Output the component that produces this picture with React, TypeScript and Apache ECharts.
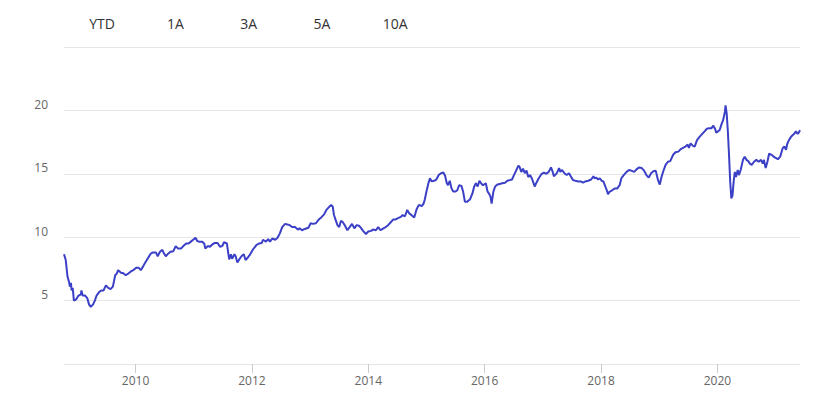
import React, { useEffect, useRef } from "react";
import * as echarts from "echarts";

const years: number[] = [
  2008.77, 2008.8, 2008.83, 2008.86, 2008.87, 2008.89, 2008.9, 2008.92, 2008.94, 2008.98,
  2009.02, 2009.06, 2009.07, 2009.09, 2009.13, 2009.17, 2009.2, 2009.23, 2009.27, 2009.3,
  2009.33, 2009.38, 2009.42, 2009.45, 2009.49, 2009.53, 2009.57, 2009.61, 2009.65, 2009.68,
  2009.7, 2009.75, 2009.79, 2009.83, 2009.88, 2009.92, 2009.96, 2010.01, 2010.05, 2010.09,
  2010.13, 2010.18, 2010.22, 2010.26, 2010.3, 2010.35, 2010.38, 2010.42, 2010.46, 2010.49,
  2010.52, 2010.56, 2010.6, 2010.65, 2010.69, 2010.73, 2010.78, 2010.82, 2010.87, 2010.91,
  2010.95, 2010.99, 2011.03, 2011.06, 2011.09, 2011.14, 2011.18, 2011.2, 2011.24, 2011.28,
  2011.31, 2011.36, 2011.41, 2011.45, 2011.49, 2011.52, 2011.57, 2011.59, 2011.61, 2011.64,
  2011.66, 2011.7, 2011.72, 2011.75, 2011.79, 2011.82, 2011.86, 2011.89, 2011.93, 2011.97,
  2012.02, 2012.08, 2012.12, 2012.17, 2012.19, 2012.24, 2012.28, 2012.31, 2012.35, 2012.4,
  2012.44, 2012.48, 2012.52, 2012.57, 2012.61, 2012.65, 2012.69, 2012.74, 2012.79, 2012.82,
  2012.86, 2012.91, 2012.97, 2013.01, 2013.05, 2013.1, 2013.15, 2013.2, 2013.24, 2013.28,
  2013.32, 2013.36, 2013.39, 2013.41, 2013.44, 2013.47, 2013.5, 2013.53, 2013.56, 2013.6,
  2013.64, 2013.68, 2013.72, 2013.76, 2013.8, 2013.84, 2013.87, 2013.91, 2013.96, 2014.0,
  2014.05, 2014.08, 2014.13, 2014.17, 2014.21, 2014.26, 2014.3, 2014.34, 2014.39, 2014.43,
  2014.47, 2014.51, 2014.56, 2014.59, 2014.63, 2014.67, 2014.7, 2014.74, 2014.79, 2014.83,
  2014.87, 2014.92, 2014.95, 2014.97, 2015.0, 2015.03, 2015.06, 2015.09, 2015.13, 2015.17,
  2015.21, 2015.25, 2015.29, 2015.32, 2015.35, 2015.37, 2015.4, 2015.43, 2015.46, 2015.5,
  2015.53, 2015.56, 2015.6, 2015.63, 2015.66, 2015.7, 2015.75, 2015.79, 2015.82, 2015.85,
  2015.88, 2015.91, 2015.94, 2015.97, 2016.02, 2016.05, 2016.08, 2016.1, 2016.12, 2016.15,
  2016.18, 2016.22, 2016.26, 2016.3, 2016.35, 2016.39, 2016.43, 2016.47, 2016.52, 2016.55,
  2016.58, 2016.6, 2016.63, 2016.66, 2016.69, 2016.72, 2016.75, 2016.78, 2016.81, 2016.83,
  2016.86, 2016.89, 2016.93, 2016.98, 2017.02, 2017.06, 2017.1, 2017.14, 2017.17, 2017.19,
  2017.24, 2017.28, 2017.3, 2017.33, 2017.37, 2017.41, 2017.45, 2017.48, 2017.52, 2017.56,
  2017.61, 2017.65, 2017.69, 2017.73, 2017.78, 2017.83, 2017.87, 2017.89, 2017.92, 2017.95,
  2017.98, 2018.01, 2018.04, 2018.07, 2018.1, 2018.12, 2018.15, 2018.19, 2018.24, 2018.28,
  2018.32, 2018.35, 2018.39, 2018.44, 2018.48, 2018.52, 2018.57, 2018.61, 2018.65, 2018.7,
  2018.74, 2018.78, 2018.82, 2018.86, 2018.9, 2018.94, 2018.98, 2019.01, 2019.04, 2019.07,
  2019.11, 2019.15, 2019.19, 2019.24, 2019.28, 2019.33, 2019.37, 2019.41, 2019.45, 2019.49,
  2019.51, 2019.54, 2019.58, 2019.61, 2019.65, 2019.7, 2019.74, 2019.78, 2019.82, 2019.86,
  2019.9, 2019.93, 2019.96, 2019.98, 2020.01, 2020.04, 2020.07, 2020.1, 2020.13, 2020.14,
  2020.16, 2020.18, 2020.2, 2020.22, 2020.24, 2020.26, 2020.28, 2020.3, 2020.32, 2020.35,
  2020.37, 2020.4, 2020.44, 2020.47, 2020.5, 2020.53, 2020.56, 2020.59, 2020.63, 2020.67,
  2020.71, 2020.75, 2020.78, 2020.8, 2020.83, 2020.86, 2020.89, 2020.93, 2020.97, 2021.0,
  2021.04, 2021.08, 2021.12, 2021.15, 2021.18, 2021.2, 2021.23, 2021.27, 2021.32, 2021.35,
  2021.38, 2021.4, 2021.42,
];

const values: number[] = [
  8.65, 8.2, 6.9, 6.4, 6.1, 6.4, 5.8, 6.0, 5.0, 5.1,
  5.4, 5.5, 5.8, 5.4, 5.4, 5.2, 4.7, 4.5, 4.7, 5.0,
  5.4, 5.7, 5.8, 5.8, 6.2, 6.0, 5.9, 6.1, 7.0, 7.15,
  7.4, 7.2, 7.15, 7.0, 7.15, 7.3, 7.4, 7.6, 7.6, 7.4,
  7.7, 8.1, 8.4, 8.7, 8.8, 8.8, 8.5, 8.85, 9.0, 8.7,
  8.5, 8.7, 8.85, 8.9, 9.3, 9.1, 9.1, 9.3, 9.5, 9.5,
  9.65, 9.8, 9.95, 9.7, 9.65, 9.65, 9.5, 9.1, 9.3, 9.25,
  9.4, 9.55, 9.55, 9.25, 9.3, 9.6, 9.5, 8.85, 8.25, 8.65,
  8.3, 8.65, 8.5, 8.0, 8.3, 8.5, 8.65, 8.2, 8.4, 8.65,
  9.05, 9.4, 9.5, 9.55, 9.8, 9.65, 9.85, 9.65, 9.9, 9.8,
  9.95, 10.3, 10.8, 11.05, 11.0, 10.95, 10.8, 10.8, 10.6, 10.7,
  10.55, 10.65, 10.75, 11.1, 11.05, 11.1, 11.4, 11.6, 11.8, 12.15,
  12.35, 12.55, 12.4, 11.75, 11.35, 10.95, 10.8, 11.3, 11.2, 10.9,
  10.55, 10.8, 11.05, 10.7, 10.95, 10.9, 10.75, 10.5, 10.25, 10.45,
  10.5, 10.6, 10.55, 10.8, 10.55, 10.7, 10.8, 10.95, 11.2, 11.4,
  11.4, 11.5, 11.6, 11.75, 11.65, 12.15, 11.9, 11.75, 11.55, 12.2,
  12.55, 12.45, 12.65, 12.95, 13.6, 14.2, 14.65, 14.4, 14.45, 14.55,
  14.9, 15.05, 15.1, 14.85, 14.25, 14.1, 14.45, 13.85, 13.6, 13.6,
  13.7, 14.1, 14.05, 13.6, 12.8, 12.8, 13.0, 13.45, 14.0, 14.25,
  14.0, 14.45, 14.25, 14.1, 14.25, 13.6, 13.4, 13.2, 12.65, 13.6,
  14.0, 14.15, 14.2, 14.25, 14.3, 14.45, 14.5, 14.55, 15.05, 15.35,
  15.65, 15.55, 15.15, 15.4, 15.05, 15.25, 14.75, 14.9, 14.65, 14.4,
  14.0, 14.3, 14.65, 15.0, 15.1, 15.0, 15.15, 15.5, 15.15, 14.8,
  15.05, 15.45, 15.15, 15.3, 15.05, 14.9, 15.05, 14.8, 14.5, 14.45,
  14.4, 14.4, 14.3, 14.4, 14.45, 14.55, 14.8, 14.65, 14.7, 14.55,
  14.65, 14.45, 14.4, 14.05, 13.7, 13.4, 13.6, 13.7, 13.85, 13.85,
  14.1, 14.65, 14.9, 15.15, 15.3, 15.25, 15.15, 15.35, 15.5, 15.45,
  15.25, 14.9, 14.7, 15.05, 15.2, 15.25, 14.5, 14.15, 14.75, 15.2,
  15.7, 15.95, 16.0, 16.5, 16.7, 16.75, 16.95, 17.05, 17.15, 17.3,
  17.05, 17.4, 17.2, 17.15, 17.65, 17.95, 18.15, 18.35, 18.55, 18.6,
  18.6, 18.8, 18.55, 18.25, 18.35, 18.45, 18.9, 19.25, 19.9, 20.4,
  19.75, 18.35, 16.5, 14.4, 13.05, 13.3, 14.4, 15.15, 14.75, 15.3,
  14.9, 15.3, 16.1, 16.35, 16.1, 16.0, 15.8, 15.7, 15.95, 16.1,
  15.95, 16.1, 15.8, 16.1, 15.45, 15.95, 16.6, 16.5, 16.35, 16.25,
  16.15, 16.35, 17.0, 17.15, 16.9, 17.35, 17.65, 17.95, 18.15, 18.35,
  18.15, 18.25, 18.45,
];

const xTickYears: number[] = [2010, 2012, 2014, 2016, 2018, 2020];
const rangeButtons: string[] = ["YTD", "1A", "3A", "5A", "10A"];

const FONT = "'Open Sans', 'Noto Sans', sans-serif";

export default function App() {
  const ref = useRef<HTMLDivElement>(null);

  useEffect(() => {
    if (!ref.current) return;
    const chart = echarts.init(ref.current, undefined, { renderer: "svg" });
    const data = years.map((y, i) => [y, values[i]]);

    const option: any = {
      animation: false,
      backgroundColor: "#ffffff",
      grid: { left: 64, right: 21, top: 47, bottom: 32, containLabel: false },
      graphic: rangeButtons.map((t, i) => ({
        type: "text",
        x: 102 + i * 73.3,
        y: 23,
        style: {
          text: t,
          fill: "#333333",
          font: `14px ${FONT}`,
          align: "center",
          verticalAlign: "middle",
        },
      })),
      xAxis: {
        type: "value",
        min: 2008.77,
        max: 2021.42,
        axisLine: { show: true, lineStyle: { color: "#e6e6e6", width: 1 } },
        axisTick: {
          show: true,
          customValues: xTickYears,
          length: 9,
          lineStyle: { color: "#cccccc" },
        },
        axisLabel: {
          customValues: xTickYears,
          formatter: (v: number) => String(Math.round(v)),
          color: "#666666",
          fontFamily: FONT,
          fontSize: 12,
          margin: 10,
        },
        splitLine: { show: false },
      },
      yAxis: {
        type: "value",
        min: 0,
        max: 25,
        interval: 5,
        axisLine: { show: false },
        axisTick: { show: false },
        axisLabel: {
          formatter: (v: number) => (v === 0 || v === 25 ? "" : String(v)),
          color: "#666666",
          fontFamily: FONT,
          fontSize: 12,
          margin: 16,
          verticalAlign: "bottom",
          lineHeight: 12,
        },
        splitLine: { show: true, lineStyle: { color: "#e6e6e6", width: 1 } },
      },
      series: [
        {
          type: "line",
          data,
          showSymbol: false,
          symbol: "none",
          lineStyle: { color: "#3b40c6", width: 2 },
          itemStyle: { color: "#3b40c6" },
        },
      ],
    };
    chart.setOption(option);
    return () => chart.dispose();
  }, []);

  return <div ref={ref} style={{ width: 821, height: 396, margin: -8 }} />;
}
